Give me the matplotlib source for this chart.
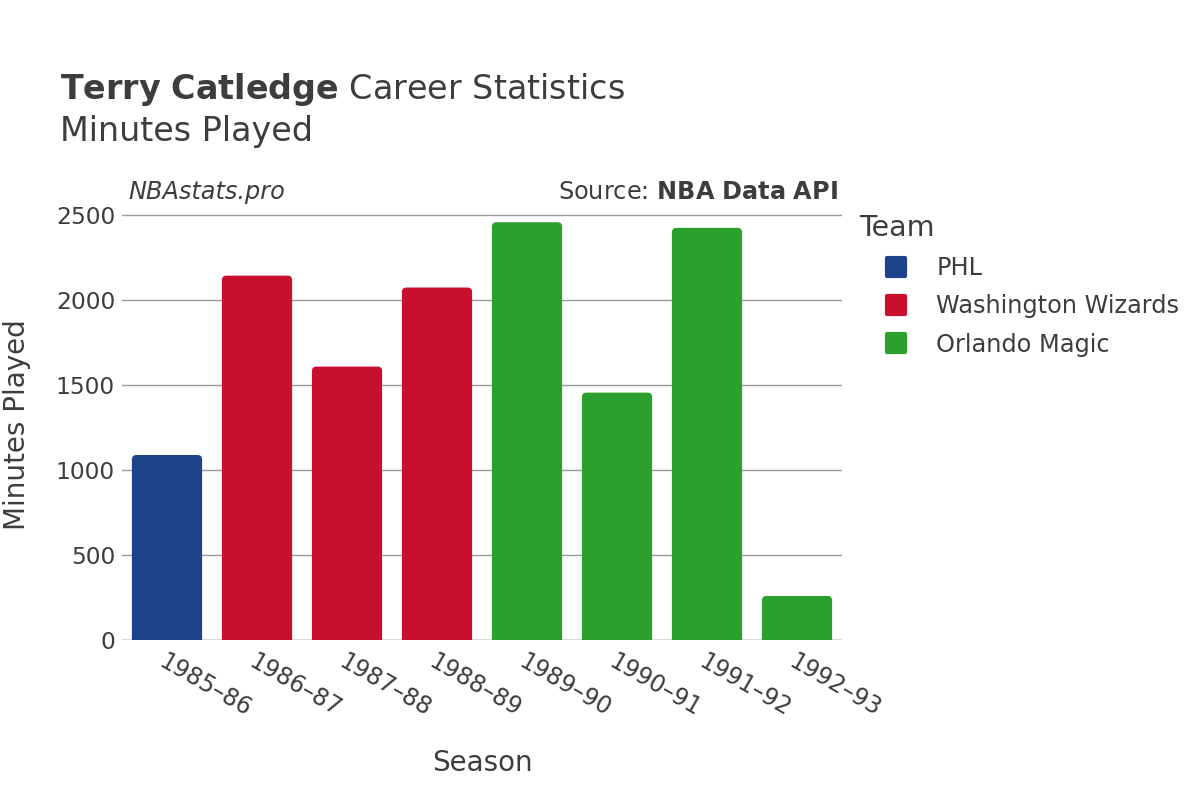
import matplotlib
matplotlib.use("Agg")
import matplotlib.pyplot as plt
from matplotlib.patches import FancyBboxPatch
from matplotlib.lines import Line2D
from matplotlib.markers import MarkerStyle

seasons = ["1985–86", "1986–87", "1987–88", "1988–89",
           "1989–90", "1990–91", "1991–92", "1992–93"]
teams = ["PHL", "Washington Wizards", "Washington Wizards", "Washington Wizards",
         "Orlando Magic", "Orlando Magic", "Orlando Magic", "Orlando Magic"]
minutes = [1088, 2143, 1608, 2073, 2457, 1455, 2424, 259]

team_names = ["PHL", "Washington Wizards", "Orlando Magic"]
team_colors = {"PHL": "#1d4287", "Washington Wizards": "#c8102e", "Orlando Magic": "#2ca02c"}

txt = "#3d3d3d"
plt.rcParams['font.family'] = ['DejaVu Sans']

fig = plt.figure(figsize=(12, 8), dpi=100)
ax = fig.add_axes([122 / 1200, 160 / 800, 720 / 1200, 430 / 800])

ymax = 2529
ax.set_xlim(-0.5, len(seasons) - 0.5)
ax.set_ylim(0, ymax)

# px -> data ratio for rounded corners
xu_per_px = len(seasons) / 720
yu_per_px = ymax / 430
width = 0.78
for i, (t, m) in enumerate(zip(teams, minutes)):
    patch = FancyBboxPatch((i - width / 2, -40), width, m + 40,
                           boxstyle="round,pad=0,rounding_size=%f" % (4.5 * xu_per_px),
                           mutation_aspect=yu_per_px / xu_per_px,
                           facecolor=team_colors[t], edgecolor="none", zorder=3)
    ax.add_patch(patch)

ax.set_yticks([0, 500, 1000, 1500, 2000, 2500])
ax.grid(axis="y", color="#999999", linewidth=1, zorder=0)
ax.axhline(0, color="#e8e8e8", linewidth=2, zorder=1)
for s in ax.spines.values():
    s.set_visible(False)
ax.tick_params(axis="both", length=0, labelsize=16.8, colors=txt)
ax.tick_params(axis="y", pad=5)
ax.set_xticks(range(len(seasons)))
ax.set_xticklabels(seasons, rotation=-30, ha="left", va="top", rotation_mode="anchor")
ax.tick_params(axis="x", pad=7, labelsize=17)

ax.set_xlabel("Season", fontsize=20, color=txt, labelpad=20)
ax.set_ylabel("Minutes Played", fontsize=20, color=txt, labelpad=18)

fig.text(60 / 1200, 1 - 89 / 800, r"$\bf{Terry\ Catledge}$ Career Statistics",
         fontsize=24, color=txt, va="center")
fig.text(60 / 1200, 1 - 132 / 800, "Minutes Played", fontsize=24, color=txt, va="center")
fig.text(128 / 1200, 1 - 192 / 800, "NBAstats.pro", fontsize=17.3, style="italic",
         color=txt, va="center")
fig.text(838 / 1200, 1 - 192 / 800, r"Source: $\bf{NBA\ Data\ API}$", fontsize=17.3,
         color=txt, va="center", ha="right")

mk = MarkerStyle("s", joinstyle="round")
handles = [Line2D([0], [0], marker=mk, linestyle="none", markersize=13,
                  markerfacecolor=team_colors[n], markeredgecolor=team_colors[n],
                  markeredgewidth=3) for n in team_names]
leg = fig.legend(handles, team_names, loc="upper left", bbox_to_anchor=(850 / 1200, 1 - 204 / 800),
                 frameon=False, fontsize=17.3, title="Team", title_fontsize=20.5,
                 labelspacing=0.6, handletextpad=0.2, handlelength=3.0, borderaxespad=0)
leg._legend_box.align = "left"
leg.get_title().set_color(txt)
for t in leg.get_texts():
    t.set_color(txt)

fig.savefig("out.png", dpi=100, facecolor="white")
